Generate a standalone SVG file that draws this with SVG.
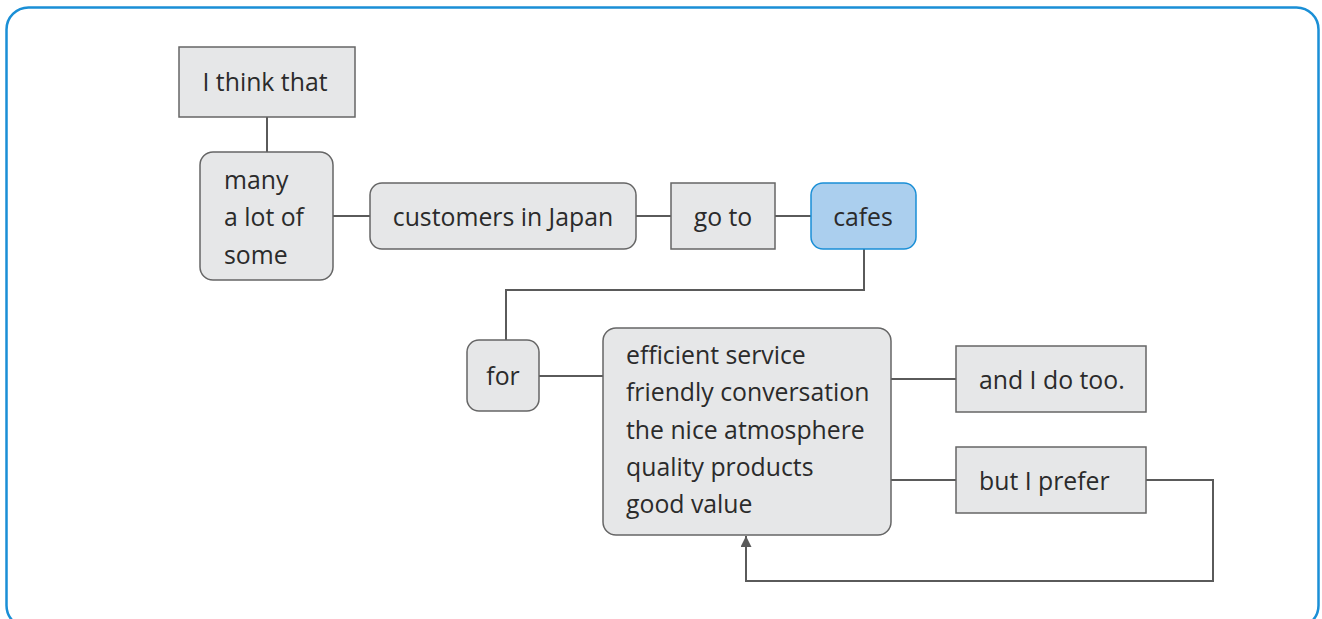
<svg xmlns="http://www.w3.org/2000/svg" width="1322" height="619" viewBox="0 0 1322 619">
  <defs>
    <style>
      .box { fill: #e6e7e8; stroke: #666666; stroke-width: 1.5; }
      .hl { fill: #abcfee; stroke: #1a8fd6; stroke-width: 1.5; }
      .lbl { font-family: "Open Sans", "Liberation Sans", sans-serif; font-size: 24.8px; fill: #2b2b2b; }
      .mid { text-anchor: middle; }
      .wire { fill: none; stroke: #5a5a5a; stroke-width: 2; }
    </style>
    <marker id="arrow" viewBox="0 0 10 10" refX="10" refY="5" markerWidth="13" markerHeight="11" markerUnits="userSpaceOnUse" orient="auto">
      <path d="M0,0 L10,5 L0,10 Z" fill="#5a5a5a"/>
    </marker>
  </defs>

  <!-- outer frame -->
  <rect x="6.5" y="7.5" width="1312" height="620" rx="22" fill="#ffffff" stroke="#1a8fd6" stroke-width="2.5"/>

  <!-- connectors -->
  <g id="connectors">
    <line class="wire" x1="267" y1="117" x2="267" y2="152"/>
    <line class="wire" x1="333" y1="216" x2="370" y2="216"/>
    <line class="wire" x1="636" y1="216" x2="671" y2="216"/>
    <line class="wire" x1="775" y1="216" x2="811" y2="216"/>
    <polyline class="wire" points="864,249 864,290 506,290 506,340"/>
    <line class="wire" x1="539" y1="376" x2="603" y2="376"/>
    <line class="wire" x1="891" y1="379" x2="956" y2="379"/>
    <line class="wire" x1="891" y1="480" x2="956" y2="480"/>
    <polyline class="wire" points="1146,480 1213,480 1213,581 746,581 746,536" marker-end="url(#arrow)"/>
  </g>

  <g id="node-think">
    <rect class="box" x="179" y="47" width="176" height="70"/>
    <text class="lbl mid" x="265" y="91">I think that</text>
  </g>

  <g id="node-quantity">
    <rect class="box" x="200" y="152" width="133" height="128" rx="13"/>
    <text class="lbl" x="224" y="189">many</text>
    <text class="lbl" x="224" y="226">a lot of</text>
    <text class="lbl" x="224" y="264">some</text>
  </g>

  <g id="node-customers">
    <rect class="box" x="370" y="183" width="266" height="66" rx="12"/>
    <text class="lbl mid" x="503" y="226">customers in Japan</text>
  </g>

  <g id="node-goto">
    <rect class="box" x="671" y="183" width="104" height="66"/>
    <text class="lbl mid" x="723" y="226">go to</text>
  </g>

  <g id="node-cafes">
    <rect class="hl" x="811" y="183" width="105" height="66" rx="12"/>
    <text class="lbl mid" x="863" y="226">cafes</text>
  </g>

  <g id="node-for">
    <rect class="box" x="467" y="340" width="72" height="71" rx="12"/>
    <text class="lbl mid" x="503" y="385">for</text>
  </g>

  <g id="node-reasons">
    <rect class="box" x="603" y="328" width="288" height="207" rx="13"/>
    <text class="lbl" x="626" y="364">efficient service</text>
    <text class="lbl" x="626" y="401">friendly conversation</text>
    <text class="lbl" x="626" y="439">the nice atmosphere</text>
    <text class="lbl" x="626" y="476">quality products</text>
    <text class="lbl" x="626" y="513">good value</text>
  </g>

  <g id="node-agree">
    <rect class="box" x="956" y="346" width="190" height="66"/>
    <text class="lbl" x="979" y="389">and I do too.</text>
  </g>

  <g id="node-prefer">
    <rect class="box" x="956" y="447" width="190" height="66"/>
    <text class="lbl" x="979" y="490">but I prefer</text>
  </g>
</svg>
